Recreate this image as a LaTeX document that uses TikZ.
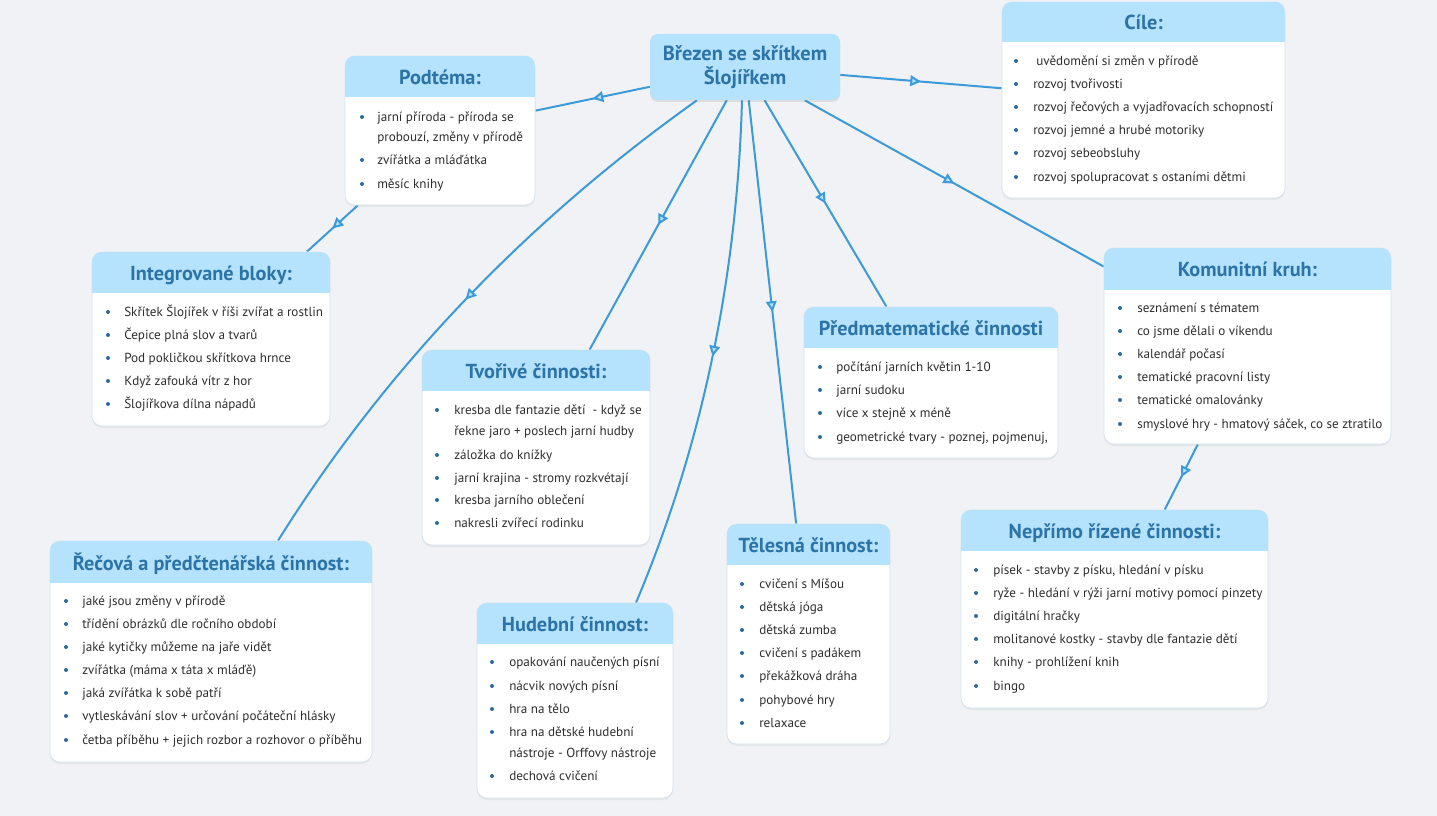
\documentclass[tikz,border=0pt]{standalone}
\usepackage{fontspec}
\setmainfont{PT Sans}
\usetikzlibrary{arrows.meta,decorations.markings,shadows,fit,calc}
\definecolor{bgc}{HTML}{F0F2F5}
\definecolor{hdr}{HTML}{B5E2FC}
\definecolor{ln}{HTML}{3B9AD8}
\definecolor{ttl}{HTML}{2C74A8}
\definecolor{txt}{HTML}{2E2E2E}
\definecolor{bul}{HTML}{2A6B9C}
\definecolor{brd}{HTML}{D3E2EE}
\pgfdeclarelayer{back}
\pgfsetlayers{back,main}
\tikzset{
  mmcard/.style={draw=brd, line width=0.5pt, fill=white, rounded corners=7.5pt, inner sep=0pt,
    drop shadow={opacity=0.10, shadow xshift=0pt, shadow yshift=-1.5pt}},
  rootbox/.style={fill=hdr, rounded corners=6pt, inner sep=0pt, minimum width=142.5pt, minimum height=49.5pt,
    align=center, text=ttl, font=\fontsize{15.3}{18}\selectfont\bfseries,
    drop shadow={opacity=0.18, shadow xshift=0pt, shadow yshift=-1.5pt}},
  ttlstyle/.style={inner sep=0pt, text=ttl, font=\fontsize{15.2}{17}\selectfont\bfseries, text height=10.5pt, text depth=0pt},
  itm/.style={anchor=west, inner sep=0pt, text=txt, font=\fontsize{9.85}{11}\selectfont, text height=7pt, text depth=0pt},
  conn/.style={draw=ln, line width=1.5pt, postaction={decorate},
    decoration={markings, mark=at position 0.5 with {\arrow{Triangle[length=8pt, width=8pt, fill=hdr]}}}},
}
\newcommand\mmcard[7]{%
  \node[mmcard, fit={(#2,#3) (#4,#5)}] (#1) {};
  \begin{scope}
    \clip[rounded corners=7.5pt] (#2,#3) rectangle (#4,#5);
    \fill[hdr] (#2,#3) rectangle (#4,#6);
  \end{scope}
  \node[ttlstyle] (#1-t) at ({(#2+#4)/2}, {(#3+#6)/2+1}) {#7};
}
\newcommand\mmitem[5]{%
  \fill[bul] (#2,#4) circle (1.5pt);
  \node[itm] (#1) at (#3,#4) {#5};
}
\newcommand\mmline[4]{%
  \node[itm] (#1) at (#2,#3) {#4};
}
\begin{document}
\begin{tikzpicture}[x=0.75pt, y=-0.75pt]
\begin{pgfonlayer}{back}
\fill[bgc] (0,0) rectangle (1437,816);
\end{pgfonlayer}
\useasboundingbox (0,0) rectangle (1437,816);

% root
\node[rootbox] (root) at (745,67) {Březen se skřítkem\\Šlojířkem};

% Cíle
\mmcard{cile}{1002}{2}{1285}{198}{42}{Cíle:}
\mmitem{cile1}{1016}{1036}{61}{uvědomění si změn v přírodě}
\mmitem{cile2}{1016}{1033}{84}{rozvoj tvořivosti}
\mmitem{cile3}{1016}{1033}{107}{rozvoj řečových a vyjadřovacích schopností}
\mmitem{cile4}{1016}{1033}{130}{rozvoj jemné a hrubé motoriky}
\mmitem{cile5}{1016}{1033}{153}{rozvoj sebeobsluhy}
\mmitem{cile6}{1016}{1033}{177}{rozvoj spolupracovat s ostaními dětmi}

% Podtéma
\mmcard{podt}{345}{56}{535}{205}{97}{Podtéma:}
\mmitem{podt1}{362}{377}{117}{jarní příroda - příroda se}
\mmline{podt1b}{377}{137}{probouzí, změny v přírodě}
\mmitem{podt2}{362}{377}{160}{zvířátka a mláďátka}
\mmitem{podt3}{362}{377}{184}{měsíc knihy}

% Integrované bloky
\mmcard{integ}{92}{252}{330}{426}{293}{Integrované bloky:}
\mmitem{integ1}{108}{124}{312}{Skřítek Šlojířek v říši zvířat a rostlin}
\mmitem{integ2}{108}{124}{335}{Čepice plná slov a tvarů}
\mmitem{integ3}{108}{124}{358}{Pod pokličkou skřítkova hrnce}
\mmitem{integ4}{108}{124}{381}{Když zafouká vítr z hor}
\mmitem{integ5}{108}{124}{404}{Šlojířkova dílna nápadů}

% Tvořivé činnosti
\mmcard{tvor}{422}{350}{650}{545}{391}{Tvořivé činnosti:}
\mmitem{tvor1}{437}{454}{410}{kresba dle fantazie dětí \ - když se}
\mmline{tvor1b}{454}{431}{řekne jaro + poslech jarní hudby}
\mmitem{tvor2}{437}{454}{455}{záložka do knížky}
\mmitem{tvor3}{437}{454}{478}{jarní krajina - stromy rozkvétají}
\mmitem{tvor4}{437}{454}{500}{kresba jarního oblečení}
\mmitem{tvor5}{437}{454}{523}{nakresli zvířecí rodinku}

% Předmatematické činnosti
\mmcard{pred}{804}{307}{1058}{458}{348}{Předmatematické činnosti}
\mmitem{pred1}{820}{836}{367}{počítání jarních květin 1-10}
\mmitem{pred2}{820}{836}{390}{jarní sudoku}
\mmitem{pred3}{820}{836}{413}{více x stejně x méně}
\mmitem{pred4}{820}{836}{437}{geometrické tvary - poznej, pojmenuj,}

% Komunitní kruh
\mmcard{kom}{1104}{248}{1391}{444}{290}{Komunitní kruh:}
\mmitem{kom1}{1120}{1137}{308}{seznámení s tématem}
\mmitem{kom2}{1120}{1137}{331}{co jsme dělali o víkendu}
\mmitem{kom3}{1120}{1137}{354}{kalendář počasí}
\mmitem{kom4}{1120}{1137}{377}{tematické pracovní listy}
\mmitem{kom5}{1120}{1137}{400}{tematické omalovánky}
\mmitem{kom6}{1120}{1137}{424}{smyslové hry - hmatový sáček, co se ztratilo}

% Řečová a předčtenářská činnost
\mmcard{rec}{50}{541}{372}{762}{583}{Řečová a předčtenářská činnost:}
\mmitem{rec1}{66}{82}{601}{jaké jsou změny v přírodě}
\mmitem{rec2}{66}{82}{624}{třídění obrázků dle ročního období}
\mmitem{rec3}{66}{82}{647}{jaké kytičky můžeme na jaře vidět}
\mmitem{rec4}{66}{82}{670}{zvířátka (máma x táta x mláďě)}
\mmitem{rec5}{66}{82}{693}{jaká zvířátka k sobě patří}
\mmitem{rec6}{66}{82}{716}{vytleskávání slov + určování počáteční hlásky}
\mmitem{rec7}{66}{82}{740}{četba příběhu + jejich rozbor a rozhovor o příběhu}

% Hudební činnost
\mmcard{hud}{477}{603}{673}{798}{644}{Hudební činnost:}
\mmitem{hud1}{492}{509}{662}{opakování naučených písní}
\mmitem{hud2}{492}{509}{686}{nácvik nových písní}
\mmitem{hud3}{492}{509}{709}{hra na tělo}
\mmitem{hud4}{492}{509}{732}{hra na dětské hudební}
\mmline{hud4b}{509}{753}{nástroje - Orffovy nástroje}
\mmitem{hud5}{492}{509}{776}{dechová cvičení}

% Tělesná činnost
\mmcard{tel}{727}{524}{890}{744}{565}{Tělesná činnost:}
\mmitem{tel1}{742}{759}{584}{cvičení s Míšou}
\mmitem{tel2}{742}{759}{607}{dětská jóga}
\mmitem{tel3}{742}{759}{630}{dětská zumba}
\mmitem{tel4}{742}{759}{653}{cvičení s padákem}
\mmitem{tel5}{742}{759}{676}{překážková dráha}
\mmitem{tel6}{742}{759}{700}{pohybové hry}
\mmitem{tel7}{742}{759}{723}{relaxace}

% Nepřímo řízené činnosti
\mmcard{nep}{961}{510}{1268}{708}{551}{Nepřímo řízené činnosti:}
\mmitem{nep1}{976}{993}{570}{písek - stavby z písku, hledání v písku}
\mmitem{nep2}{976}{993}{593}{ryže - hledání v rýži jarní motivy pomocí pinzety}
\mmitem{nep3}{976}{993}{616}{digitální hračky}
\mmitem{nep4}{976}{993}{639}{molitanové kostky - stavby dle fantazie dětí}
\mmitem{nep5}{976}{993}{662}{knihy - prohlížení knih}
\mmitem{nep6}{976}{993}{686}{bingo}

% connectors
\begin{pgfonlayer}{back}
\draw[conn] (root) -- (podt);
\draw[conn] (root) -- (cile);
\draw[conn] (root) -- (kom);
\draw[conn] (root) -- (pred);
\draw[conn] (root) -- (tel);
\draw[conn] (root) -- (tvor);
\draw[conn] ($(root.south)+(-3,0)$) .. controls (737,279) and (702,446) .. ($(hud.north)+(61,0)$);
\draw[conn] ($(root.south)+(-48,0)$) .. controls (523,224) and (384,371) .. ($(rec.north)+(67,0)$);
\draw[conn] (podt) -- (integ);
\draw[conn] (kom) -- (nep);
\end{pgfonlayer}
\end{tikzpicture}
\end{document}
